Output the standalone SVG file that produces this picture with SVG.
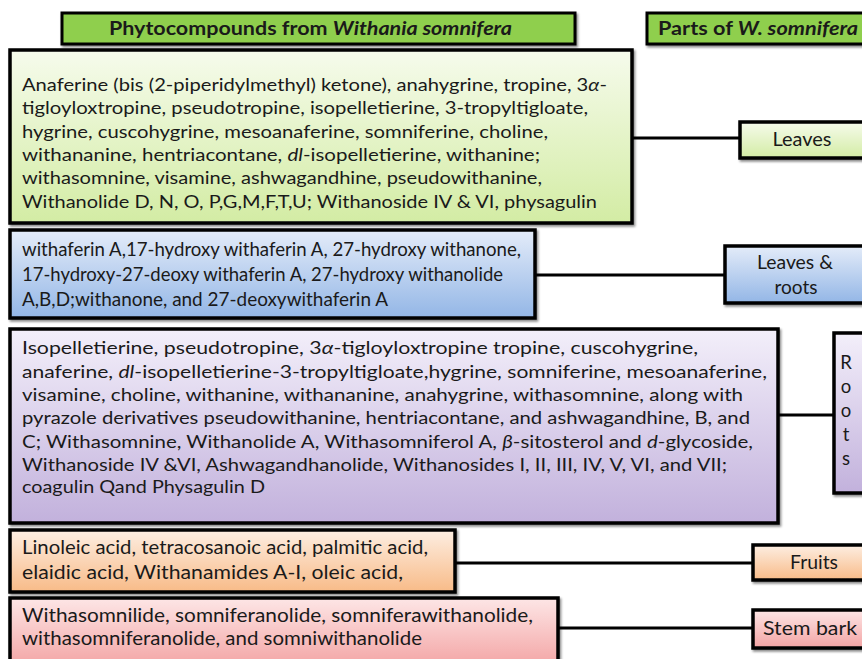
<svg xmlns="http://www.w3.org/2000/svg" width="862" height="659" viewBox="0 0 862 659">
<style>
  text { font-family: Lato, "Open Sans", "Liberation Sans", sans-serif; fill: #1a1a1a; }
  .t { font-size: 18px; }
  .c { font-size: 19.5px; }
  .h { font-size: 18px; font-weight: bold; }
  .i { font-style: italic; }
  .box { stroke: #000; stroke-width: 3.5; filter: url(#sh); }
  .hdr { fill: #8fcf4d; stroke: #000; stroke-width: 3; filter: url(#sh); }
  .conn line { stroke: #000; stroke-width: 3; }
  .lbl { font-size: 18.5px; text-anchor: middle; }
</style>
<defs>
  <filter id="sh" x="-5%" y="-5%" width="115%" height="130%">
    <feDropShadow dx="1.5" dy="2" stdDeviation="1.2" flood-color="#000" flood-opacity="0.45"/>
  </filter>
  <linearGradient id="gG" x1="0" y1="0" x2="0" y2="1"><stop offset="0" stop-color="#f6fbec"/><stop offset="1" stop-color="#d3eca4"/></linearGradient>
  <linearGradient id="gB" x1="0" y1="0" x2="0" y2="1"><stop offset="0" stop-color="#e4ecf9"/><stop offset="1" stop-color="#93b6e6"/></linearGradient>
  <linearGradient id="gP" x1="0" y1="0" x2="0" y2="1"><stop offset="0" stop-color="#f3effa"/><stop offset="1" stop-color="#c2b1dc"/></linearGradient>
  <linearGradient id="gO" x1="0" y1="0" x2="0" y2="1"><stop offset="0" stop-color="#fdeee2"/><stop offset="1" stop-color="#f8bb88"/></linearGradient>
  <linearGradient id="gR" x1="0" y1="0" x2="0" y2="1"><stop offset="0" stop-color="#fde6e6"/><stop offset="1" stop-color="#f3a3a3"/></linearGradient>
</defs>
<rect width="862" height="659" fill="#fff"/>

<g class="conn" id="connectors">
  <line x1="632" y1="138" x2="740" y2="138"/>
  <line x1="535" y1="275" x2="725" y2="275"/>
  <line x1="778" y1="415" x2="834" y2="415"/>
  <line x1="455" y1="563" x2="753" y2="563"/>
  <line x1="558" y1="628" x2="753" y2="628"/>
</g>

<g id="header-phyto">
  <rect class="hdr" x="62" y="13" width="513" height="31"/>
  <text class="h" x="109" y="35" textLength="403" lengthAdjust="spacingAndGlyphs">Phytocompounds from <tspan class="i">Withania somnifera</tspan></text>
</g>
<g id="header-parts">
  <rect class="hdr" x="647" y="13" width="225" height="31"/>
  <text class="h" x="658" y="35" textLength="200" lengthAdjust="spacingAndGlyphs">Parts of <tspan class="i">W. somnifera</tspan></text>
</g>

<g id="box-leaves-compounds">
  <rect class="box" x="10" y="50" width="622" height="173" fill="url(#gG)"/>
  <text class="t" x="22" y="91" textLength="585" lengthAdjust="spacingAndGlyphs">Anaferine (bis (2-piperidylmethyl) ketone), anahygrine, tropine, 3<tspan class="i">α</tspan>-</text>
  <text class="t" x="22" y="114" textLength="566" lengthAdjust="spacingAndGlyphs">tigloyloxtropine, pseudotropine, isopelletierine, 3-tropyltigloate,</text>
  <text class="t" x="22" y="138" textLength="526" lengthAdjust="spacingAndGlyphs">hygrine, cuscohygrine, mesoanaferine, somniferine, choline,</text>
  <text class="t" x="22" y="161" textLength="518" lengthAdjust="spacingAndGlyphs">withananine, hentriacontane, <tspan class="i">dl</tspan>-isopelletierine, withanine;</text>
  <text class="t" x="22" y="184" textLength="520" lengthAdjust="spacingAndGlyphs">withasomnine, visamine, ashwagandhine, pseudowithanine,</text>
  <text class="t" x="22" y="208" textLength="575" lengthAdjust="spacingAndGlyphs">Withanolide D, N, O, P,G,M,F,T,U; Withanoside IV &amp; VI, physagulin</text>
</g>
<g id="node-leaves">
  <rect class="box" x="740" y="122" width="130" height="36" fill="url(#gG)"/>
  <text class="lbl" x="802" y="146" textLength="59" lengthAdjust="spacingAndGlyphs">Leaves</text>
</g>

<g id="box-leaves-roots-compounds">
  <rect class="box" x="10" y="230" width="525" height="88" fill="url(#gB)"/>
  <text class="c" x="22" y="256" textLength="499" lengthAdjust="spacingAndGlyphs">withaferin A,17-hydroxy withaferin A, 27-hydroxy withanone,</text>
  <text class="c" x="22" y="281" textLength="481" lengthAdjust="spacingAndGlyphs">17-hydroxy-27-deoxy withaferin A, 27-hydroxy withanolide</text>
  <text class="c" x="22" y="306" textLength="366" lengthAdjust="spacingAndGlyphs">A,B,D;withanone, and 27-deoxywithaferin A</text>
</g>
<g id="node-leaves-roots">
  <rect class="box" x="725" y="246" width="145" height="57" fill="url(#gB)"/>
  <text class="lbl" x="795" y="269" textLength="76" lengthAdjust="spacingAndGlyphs">Leaves &amp;</text>
  <text class="lbl" x="796" y="294" textLength="43" lengthAdjust="spacingAndGlyphs">roots</text>
</g>

<g id="box-roots-compounds">
  <rect class="box" x="10" y="329" width="768" height="194" fill="url(#gP)"/>
  <text class="t" x="22" y="354" textLength="676" lengthAdjust="spacingAndGlyphs">Isopelletierine, pseudotropine, 3<tspan class="i">α</tspan>-tigloyloxtropine tropine,  cuscohygrine,</text>
  <text class="t" x="22" y="378" textLength="745" lengthAdjust="spacingAndGlyphs">anaferine, <tspan class="i">dl</tspan>-isopelletierine-3-tropyltigloate,hygrine, somniferine, mesoanaferine,</text>
  <text class="t" x="22" y="401" textLength="721" lengthAdjust="spacingAndGlyphs">visamine, choline, withanine, withananine, anahygrine, withasomnine, along with</text>
  <text class="t" x="22" y="424" textLength="728" lengthAdjust="spacingAndGlyphs">pyrazole derivatives pseudowithanine, hentriacontane, and ashwagandhine, B, and</text>
  <text class="t" x="22" y="448" textLength="731" lengthAdjust="spacingAndGlyphs">C; Withasomnine, Withanolide A, Withasomniferol A, <tspan class="i">β</tspan>-sitosterol and <tspan class="i">d</tspan>-glycoside,</text>
  <text class="t" x="22" y="471" textLength="705" lengthAdjust="spacingAndGlyphs">Withanoside IV &amp;VI, Ashwagandhanolide, Withanosides I, II, III, IV, V, VI, and VII;</text>
  <text class="t" x="22" y="493" textLength="243" lengthAdjust="spacingAndGlyphs">coagulin Qand Physagulin D</text>
</g>
<g id="node-roots">
  <rect class="box" x="834" y="333" width="36" height="160" fill="url(#gP)"/>
  <text class="lbl" x="846" y="369">R</text>
  <text class="lbl" x="846" y="393">o</text>
  <text class="lbl" x="846" y="417">o</text>
  <text class="lbl" x="846" y="441">t</text>
  <text class="lbl" x="846" y="465">s</text>
</g>

<g id="box-fruits-compounds">
  <rect class="box" x="10" y="530" width="445" height="62" fill="url(#gO)"/>
  <text class="c" x="22" y="554" textLength="406" lengthAdjust="spacingAndGlyphs">Linoleic acid, tetracosanoic acid, palmitic acid,</text>
  <text class="c" x="22" y="579" textLength="381" lengthAdjust="spacingAndGlyphs">elaidic acid, Withanamides A-I, oleic acid,</text>
</g>
<g id="node-fruits">
  <rect class="box" x="753" y="545" width="117" height="35" fill="url(#gO)"/>
  <text class="lbl" x="814" y="569" textLength="48" lengthAdjust="spacingAndGlyphs">Fruits</text>
</g>

<g id="box-stembark-compounds">
  <rect class="box" x="10" y="598" width="548" height="70" fill="url(#gR)" stroke-width="5"/>
  <text class="c" x="22" y="622" textLength="511" lengthAdjust="spacingAndGlyphs">Withasomnilide, somniferanolide, somniferawithanolide,</text>
  <text class="c" x="22" y="645" textLength="400" lengthAdjust="spacingAndGlyphs">withasomniferanolide, and somniwithanolide</text>
</g>
<g id="node-stembark">
  <rect class="box" x="753" y="610" width="117" height="38" fill="url(#gR)"/>
  <text class="lbl" x="810" y="635" textLength="94" lengthAdjust="spacingAndGlyphs">Stem bark</text>
</g>
</svg>
